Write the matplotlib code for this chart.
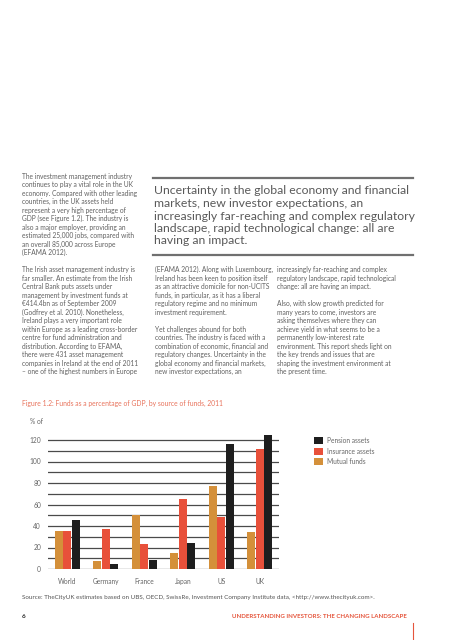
import matplotlib.pyplot as plt
from matplotlib.lines import Line2D

# chart data (Figure 1.2)
countries = ['World', 'Germany', 'France', 'Japan', 'US', 'UK']
mutual_funds = [35, 7.5, 50, 14.5, 77.5, 34]
insurance_assets = [35, 37.5, 23.5, 65.5, 48, 112]
pension_assets = [46, 5, 8, 24.5, 116.5, 125]
y_ticks = [0, 20, 40, 60, 80, 100, 120]

# page text
left_col = [
    'The investment management industry',
    'continues to play a vital role in the UK',
    'economy. Compared with other leading',
    'countries, in the UK assets held',
    'represent a very high percentage of',
    'GDP (see Figure 1.2). The industry is',
    'also a major employer, providing an',
    'estimated 25,000 jobs, compared with',
    'an overall 85,000 across Europe',
    '(EFAMA 2012).',
    '',
    'The Irish asset management industry is',
    'far smaller. An estimate from the Irish',
    'Central Bank puts assets under',
    'management by investment funds at',
    '€414.4bn as of September 2009',
    '(Godfrey et al. 2010). Nonetheless,',
    'Ireland plays a very important role',
    'within Europe as a leading cross-border',
    'centre for fund administration and',
    'distribution. According to EFAMA,',
    'there were 431 asset management',
    'companies in Ireland at the end of 2011',
    '– one of the highest numbers in Europe',
]
quote_lines = [
    'Uncertainty in the global economy and financial',
    'markets, new investor expectations, an',
    'increasingly far-reaching and complex regulatory',
    'landscape, rapid technological change: all are',
    'having an impact.',
]
mid_col = [
    '(EFAMA 2012). Along with Luxembourg,',
    'Ireland has been keen to position itself',
    'as an attractive domicile for non-UCITS',
    'funds, in particular, as it has a liberal',
    'regulatory regime and no minimum',
    'investment requirement.',
    '',
    'Yet challenges abound for both',
    'countries. The industry is faced with a',
    'combination of economic, financial and',
    'regulatory changes. Uncertainty in the',
    'global economy and financial markets,',
    'new investor expectations, an',
]
right_col = [
    'increasingly far-reaching and complex',
    'regulatory landscape, rapid technological',
    'change: all are having an impact.',
    '',
    'Also, with slow growth predicted for',
    'many years to come, investors are',
    'asking themselves where they can',
    'achieve yield in what seems to be a',
    'permanently low-interest rate',
    'environment. This report sheds light on',
    'the key trends and issues that are',
    'shaping the investment environment at',
    'the present time.',
]

W, H = 453, 640
plt.rcParams['font.family'] = ['Lato', 'DejaVu Sans']

BODY = '#606060'
RED = '#e5553c'
fs = 4.75
step = 8.52


def fx(x):
    return x / W


def fy(y):
    return 1 - y / H


fig = plt.figure(figsize=(W / 100, H / 100), dpi=100)

# body columns
for i, line in enumerate(left_col):
    fig.text(fx(22), fy(176 + step * i), line, fontsize=fs, color=BODY, va='center')
for i, line in enumerate(mid_col):
    fig.text(fx(155), fy(176 + step * (11 + i)), line, fontsize=fs, color=BODY, va='center')
for i, line in enumerate(right_col):
    fig.text(fx(277), fy(176 + step * (11 + i)), line, fontsize=fs, color=BODY, va='center')

# pull quote with rules
for yy in (178, 255):
    fig.add_artist(Line2D([fx(153), fx(413)], [fy(yy), fy(yy)], color='#707070', lw=1.6))
for i, line in enumerate(quote_lines):
    fig.text(fx(154), fy(191 + 12.5 * i), line, fontsize=8.8, color='#5a5a5a', va='center')

# caption
fig.text(fx(22), fy(403), 'Figure 1.2: Funds as a percentage of GDP, by source of funds, 2011',
         fontsize=4.9, color='#e8735c', va='center')
fig.text(fx(30), fy(422), '% of', fontsize=fs, color='#666666', va='center')

# chart
ax = fig.add_axes([fx(48), (H - 569) / H, 231 / W, 127 * 1.075 / H])
x = range(len(countries))
w = 0.21
b_mf = ax.bar([i - 0.22 for i in x], mutual_funds, w, color='#d4903a', zorder=2)
b_ins = ax.bar(list(x), insurance_assets, w, color='#e8503a', zorder=2)
b_pen = ax.bar([i + 0.225 for i in x], pension_assets, w, color='#1e1e1e', zorder=2)

for v in range(0, 130, 10):
    ax.axhline(v, color='#4a4a4a', lw=0.9, zorder=1)

ax.set_xlim(-0.5, 5.5)
ax.set_ylim(0, 127)
ax.set_yticks(y_ticks)
ax.set_xticks(list(x))
ax.set_xticklabels(countries)
ax.tick_params(axis='y', length=0, pad=5, labelsize=fs, labelcolor='#666666')
ax.tick_params(axis='x', length=0, pad=6.5, labelsize=fs, labelcolor='#666666')
for s in ax.spines.values():
    s.set_visible(False)
ax.set_facecolor('none')

fig.legend([b_pen, b_ins, b_mf], ['Pension assets', 'Insurance assets', 'Mutual funds'],
           loc='upper left', bbox_to_anchor=(fx(314), fy(437)), frameon=False,
           fontsize=fs, labelcolor='#666666', handlelength=1.4, handleheight=1.25,
           handletextpad=0.5, labelspacing=0.5, borderpad=0, borderaxespad=0)

# source and footer
fig.text(fx(22), fy(597), 'Source: TheCityUK estimates based on UBS, OECD, SwissRe, '
         'Investment Company Institute data, <http://www.thecityuk.com>.',
         fontsize=4.5, color='#555555', va='center')
fig.text(fx(22), fy(616), '6', fontsize=4.6, color='#222222', fontweight='bold', va='center')
fig.text(fx(407), fy(616), 'UNDERSTANDING INVESTORS: THE CHANGING LANDSCAPE',
         fontsize=4.4, color=RED, fontweight='bold', va='center', ha='right')
fig.add_artist(Line2D([fx(413), fx(413)], [fy(623), fy(640)], color=RED, lw=0.8))

fig.savefig('out.png', dpi=100)
